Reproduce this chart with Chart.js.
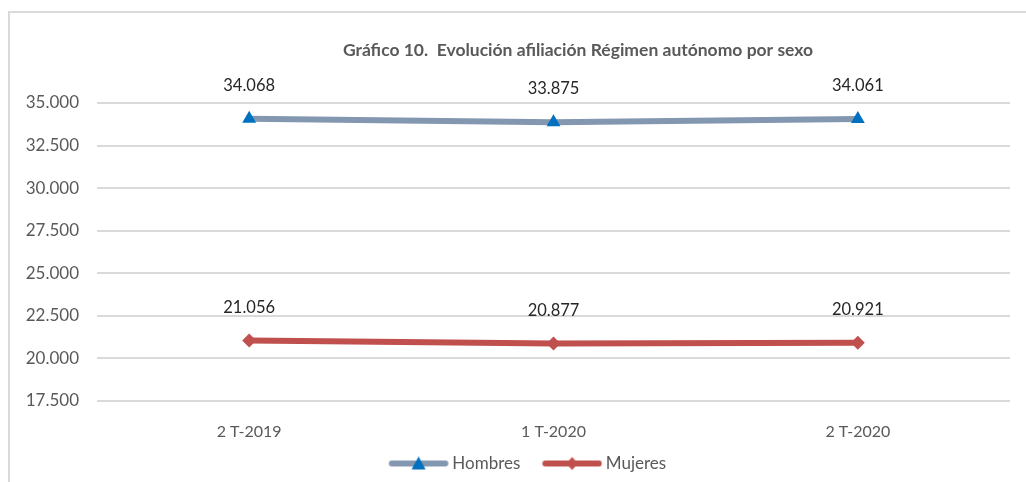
<!DOCTYPE html>
<html>
<head>
<meta charset="utf-8">
<script src="https://cdn.jsdelivr.net/npm/chart.js@4"></script>
<style>
  html, body { margin: 0; padding: 0; background: #fff; }
  #wrap { width: 1026px; height: 482px; position: relative; }
</style>
</head>
<body>
<div id="wrap"><canvas id="grafico"></canvas></div>
<script>
// datos del grafico
var periodos = ['2 T-2019', '1 T-2020', '2 T-2020'];
var hombres = [34068, 33875, 34061];
var mujeres = [21056, 20877, 20921];
var ejeMin = 17500, ejeMax = 35000, ejePaso = 2500;
var titulo = 'Gráfico 10.  Evolución afiliación Régimen autónomo por sexo';

var FONT = 'Lato, "Open Sans", sans-serif';

// formato con punto de miles
function miles(v) {
    return String(v).replace(/\B(?=(\d{3})+(?!\d))/g, '.');
}

// muestra de leyenda: linea + marcador (con hueco a la izquierda)
function muestra(colorLinea, colorMarca, forma) {
    var c = document.createElement('canvas');
    c.width = 78; c.height = 16;
    var g = c.getContext('2d');
    g.strokeStyle = colorLinea;
    g.lineWidth = 6;
    g.lineCap = 'round';
    g.beginPath(); g.moveTo(21, 8); g.lineTo(74.5, 8); g.stroke();
    g.fillStyle = colorMarca;
    var cx = 47.75;
    g.beginPath();
    if (forma == 'triangle') {
        g.moveTo(cx, 1); g.lineTo(cx + 7, 14); g.lineTo(cx - 7, 14);
    } else {
        g.moveTo(cx, 1.5); g.lineTo(cx + 6, 8); g.lineTo(cx, 14.5); g.lineTo(cx - 6, 8);
    }
    g.closePath(); g.fill();
    return c;
}

var marco = {
    id: 'marco',
    afterLayout: function(chart) {
        // la leyenda del original esta algo desplazada a la derecha
        chart.legend.left += 32;
    },
    beforeDraw: function(chart) {
        var ctx = chart.ctx;
        ctx.save();
        ctx.strokeStyle = '#d9d9d9';
        ctx.lineWidth = 2;
        ctx.strokeRect(9, 12, 1040, 500);
        ctx.restore();
    },
    afterDraw: function(chart) {
        var ctx = chart.ctx;
        ctx.save();
        ctx.font = 'bold 17.5px ' + FONT;
        ctx.fillStyle = '#595959';
        ctx.textAlign = 'center';
        ctx.textBaseline = 'middle';
        ctx.fillText(titulo, 578, 50);
        ctx.restore();
    }
};

// etiquetas de valor encima de los puntos
var etiquetas = {
    id: 'etiquetas',
    afterDatasetsDraw: function(chart) {
        var ctx = chart.ctx;
        ctx.save();
        ctx.font = '16.5px ' + FONT;
        ctx.fillStyle = '#262626';
        ctx.textAlign = 'center';
        ctx.textBaseline = 'middle';
        chart.data.datasets.forEach(function(ds, i) {
            chart.getDatasetMeta(i).data.forEach(function(pt, j) {
                ctx.fillText(miles(ds.data[j]), pt.x, pt.y - 33);
            });
        });
        ctx.restore();
    }
};

var ctx = document.getElementById('grafico').getContext('2d');
var chart = new Chart(ctx, {
    type: 'line',
    data: {
        labels: periodos,
        datasets: [{
            label: 'Hombres',
            data: hombres,
            borderColor: '#8497b0',
            backgroundColor: '#0070c0',
            borderWidth: 6,
            borderCapStyle: 'round',
            pointStyle: 'triangle',
            pointRadius: 8,
            pointBorderWidth: 0,
            pointBackgroundColor: '#0070c0',
            tension: 0
        }, {
            label: 'Mujeres',
            data: mujeres,
            borderColor: '#c0504d',
            backgroundColor: '#c0504d',
            borderWidth: 6,
            borderCapStyle: 'round',
            pointStyle: 'rectRot',
            pointRadius: 7,
            pointBorderWidth: 0,
            pointBackgroundColor: '#c0504d',
            tension: 0
        }]
    },
    options: {
        responsive: true,
        maintainAspectRatio: false,
        animation: false,
        layout: { padding: { top: 103, right: 16, left: 0, bottom: 0 } },
        plugins: {
            title: { display: false },
            tooltip: { enabled: false },
            legend: {
                position: 'bottom',
                labels: {
                    usePointStyle: true,
                    pointStyleWidth: 68,
                    padding: 9,
                    color: '#595959',
                    font: { family: FONT, size: 17 },
                    generateLabels: function(chart) {
                        return [
                            { text: 'Hombres', pointStyle: muestra('#8497b0', '#0070c0', 'triangle'), datasetIndex: 0, fontColor: '#595959', lineWidth: 0, strokeStyle: 'transparent' },
                            { text: 'Mujeres', pointStyle: muestra('#c0504d', '#c0504d', 'rectRot'), datasetIndex: 1, fontColor: '#595959', lineWidth: 0, strokeStyle: 'transparent' }
                        ];
                    }
                }
            }
        },
        scales: {
            x: {
                offset: true,
                grid: { display: false, drawTicks: false },
                border: { display: false },
                ticks: { color: '#595959', font: { family: FONT, size: 16 }, padding: 21 },
                afterFit: function(axis) { axis.height = 45; }
            },
            y: {
                min: ejeMin,
                max: ejeMax,
                grid: { color: '#d9d9d9', lineWidth: 2, drawTicks: false },
                border: { display: false },
                ticks: {
                    stepSize: ejePaso,
                    color: '#595959',
                    padding: 18,
                    font: { family: FONT, size: 17 },
                    callback: function(v) { return miles(v); }
                },
                afterFit: function(axis) { axis.width = 97; }
            }
        }
    },
    plugins: [marco, etiquetas]
});
</script>
</body>
</html>
